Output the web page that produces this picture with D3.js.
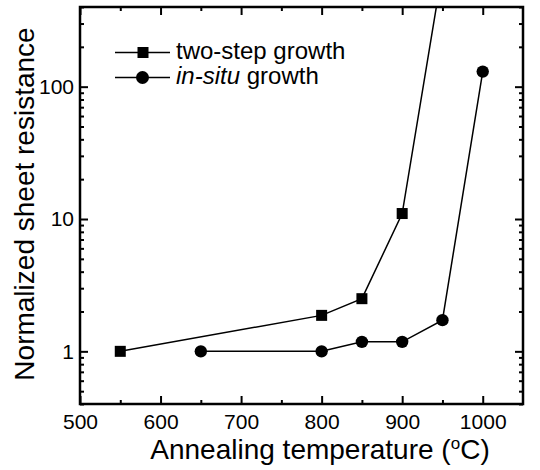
<!DOCTYPE html>
<html><head><meta charset="utf-8">
<script src="https://cdn.jsdelivr.net/npm/d3@7"></script>
<style>body{margin:0;background:#fff}svg{display:block}text{font-family:"Liberation Sans",Arial,sans-serif;fill:#000}</style>
</head><body><svg id="c" width="540" height="470"></svg>
<script>
const twoStepT = [550, 800, 850, 900, 950];
const twoStepR = [1, 1.87, 2.5, 11, 760];
const inSituT = [650, 800, 850, 900, 950, 1000];
const inSituR = [1, 1, 1.18, 1.18, 1.72, 130];
const xTicks = [500, 600, 700, 800, 900, 1000];
const yTicks = [1, 10, 100];
const seriesNames = ["two-step growth", "in-situ growth"];

(function () {
const svg = d3.select("#c");
const L = 80, R = 523, T = 7, B = 404;
const x = d3.scaleLinear().domain([500, 1050]).range([L, R]);
const y = d3.scaleLog().domain([0.4, 400]).range([B, T]);

svg.append("defs").append("clipPath").attr("id", "clip")
  .append("rect").attr("x", L).attr("y", T).attr("width", R - L).attr("height", B - T);

const xMinor = d3.range(550, 1050, 100);
const yMinor = [];
[0.1, 1, 10, 100].forEach(d => { for (let k = 2; k <= 9; k++) { const v = d * k; if (v >= 0.4 && v <= 400) yMinor.push(v); } });

svg.append("g").attr("transform", `translate(0,${B})`)
  .call(d3.axisBottom(x).tickValues(xTicks).tickFormat(d3.format("d")).tickSize(-8).tickPadding(10));
svg.append("g").attr("transform", `translate(0,${T})`)
  .call(d3.axisTop(x).tickValues(xTicks).tickFormat("").tickSize(-8));
svg.append("g").attr("transform", `translate(${L},0)`)
  .call(d3.axisLeft(y).tickValues(yTicks).tickFormat(d3.format("d")).tickSize(-8).tickPadding(6));
svg.append("g").attr("transform", `translate(${R},0)`)
  .call(d3.axisRight(y).tickValues(yTicks).tickFormat("").tickSize(-8));
svg.append("g").attr("transform", `translate(0,${B})`).call(d3.axisBottom(x).tickValues(xMinor).tickFormat("").tickSize(-4));
svg.append("g").attr("transform", `translate(0,${T})`).call(d3.axisTop(x).tickValues(xMinor).tickFormat("").tickSize(-4));
svg.append("g").attr("transform", `translate(${L},0)`).call(d3.axisLeft(y).tickValues(yMinor).tickFormat("").tickSize(-4));
svg.append("g").attr("transform", `translate(${R},0)`).call(d3.axisRight(y).tickValues(yMinor).tickFormat("").tickSize(-4));
svg.selectAll(".domain").remove();
svg.selectAll(".tick line").attr("stroke", "#000").attr("stroke-width", 2);
svg.selectAll(".tick text").attr("font-size", 21).attr("fill", "#000").attr("font-family", "Liberation Sans, Arial, sans-serif");
svg.append("rect").attr("x", L).attr("y", T).attr("width", R - L).attr("height", B - T)
  .attr("fill", "none").attr("stroke", "#000").attr("stroke-width", 2.5);

const line = d3.line().x(d => x(d[0])).y(d => y(d[1]));
const s1 = twoStepT.map((t, i) => [t, twoStepR[i]]);
const s2 = inSituT.map((t, i) => [t, inSituR[i]]);
const plot = svg.append("g").attr("clip-path", "url(#clip)");
plot.append("path").datum(s1).attr("d", line).attr("fill", "none").attr("stroke", "#000").attr("stroke-width", 1.5);
plot.append("path").datum(s2).attr("d", line).attr("fill", "none").attr("stroke", "#000").attr("stroke-width", 1.5);
plot.selectAll(".sq").data(s1).enter().append("rect")
  .attr("x", d => x(d[0]) - 5.5).attr("y", d => y(d[1]) - 5.5).attr("width", 11).attr("height", 11).attr("fill", "#000");
plot.selectAll(".ci").data(s2).enter().append("circle")
  .attr("cx", d => x(d[0])).attr("cy", d => y(d[1])).attr("r", 6.2).attr("fill", "#000");

const lg = svg.append("g");
[52.5, 77.5].forEach((ly, i) => {
  lg.append("line").attr("x1", 115).attr("x2", 170).attr("y1", ly).attr("y2", ly).attr("stroke", "#000").attr("stroke-width", 1.5);
  if (i === 0) lg.append("rect").attr("x", 137.5).attr("y", ly - 5.5).attr("width", 11).attr("height", 11).attr("fill", "#000");
  else lg.append("circle").attr("cx", 142.5).attr("cy", ly).attr("r", 6.5).attr("fill", "#000");
});
lg.append("text").attr("x", 176).attr("y", 59).attr("font-size", 24).text(seriesNames[0]);
const t2 = lg.append("text").attr("x", 176).attr("y", 84).attr("font-size", 24);
t2.append("tspan").attr("font-style", "italic").text("in-situ");
t2.append("tspan").text(" growth");

const xt = svg.append("text").attr("x", 320).attr("y", 459).attr("text-anchor", "middle").attr("font-size", 28);
xt.append("tspan").text("Annealing temperature (");
xt.append("tspan").attr("dy", -10).attr("font-size", 17).text("o");
xt.append("tspan").attr("dy", 10).text("C)");
svg.append("text").attr("transform", `translate(34,204) rotate(-90)`).attr("text-anchor", "middle")
  .attr("font-size", 28).text("Normalized sheet resistance");
})();
</script></body></html>
